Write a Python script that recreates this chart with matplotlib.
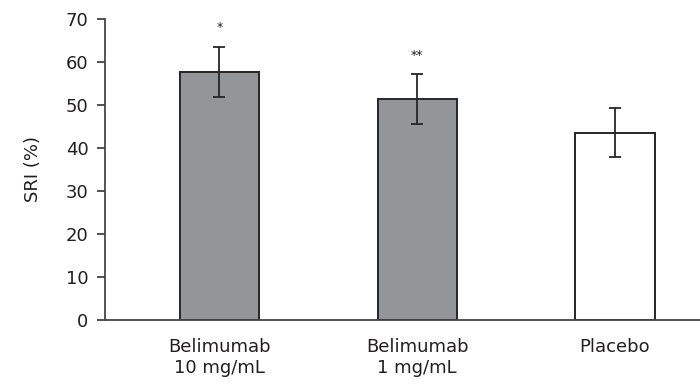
import numpy as np
import matplotlib
matplotlib.use('Agg')
import matplotlib.pyplot as plt

# response rates per group (mean and error)
groups = ['Belimumab\n10 mg/mL', 'Belimumab\n1 mg/mL', 'Placebo']
sri = [57.6, 51.3, 43.6]
sri_err = [5.8, 5.8, 5.8]
stars = ['*', '**', '']
bar_colors = ['#939598', '#939598', 'white']

text_color = '#231f20'
axis_color = '#444444'

plt.rcParams['font.family'] = ['DejaVu Sans']

fig = plt.figure(figsize=(7.0, 3.9), dpi=100)
ax = fig.add_axes([0.15, 0.1795, 0.85, 0.7718])

x = np.arange(len(groups))
ax.bar(x, sri, width=0.4, color=bar_colors, edgecolor='#262626',
       linewidth=1.4, zorder=2)
ax.errorbar(x, sri, yerr=sri_err, fmt='none', ecolor='#262626',
            elinewidth=1.3, capsize=4, capthick=1.3, zorder=3)

# significance markers above the error bars
for xi, m, e, s in zip(x, sri, sri_err, stars):
    if s:
        ax.text(xi, m + e + 3.0, s, ha='center', va='bottom',
                fontsize=9, color=text_color)

ax.set_xlim(-0.578, 2.43)
ax.set_ylim(0, 70)
ax.set_yticks(np.arange(0, 71, 10))
ax.set_xticks(x)
ax.set_xticklabels(groups)

for side in ['top', 'right']:
    ax.spines[side].set_visible(False)
for side in ['left', 'bottom']:
    ax.spines[side].set_color(axis_color)
    ax.spines[side].set_linewidth(1.3)

ax.tick_params(axis='y', direction='out', length=6, width=1.3,
               color=axis_color, labelsize=13, labelcolor=text_color, pad=6)
ax.tick_params(axis='x', length=0, labelsize=13, labelcolor=text_color,
               pad=13)
ax.set_ylabel('SRI (%)', fontsize=13, color=text_color, labelpad=17)

fig.savefig('out.png', dpi=100)
